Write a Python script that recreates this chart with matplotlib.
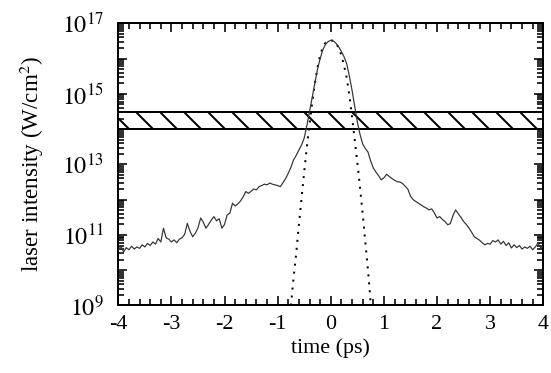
"""Laser intensity contrast vs time, with Gaussian fit and threshold band."""

import matplotlib

matplotlib.use("Agg")
import matplotlib.pyplot as plt
import numpy as np
from matplotlib.ticker import FixedLocator, FuncFormatter, LogLocator, MultipleLocator, NullFormatter


# measured trace, sampled every 0.05 ps from -4 to 4 ps (log10 of W/cm^2)
TIME_PS = np.round(np.linspace(-4.0, 4.0, 161), 2)
LOG_INTENSITY = np.array([
    10.58, 10.68, 10.52, 10.64, 10.58, 10.68, 10.60, 10.66, 10.62, 10.72,
    10.66, 10.76, 10.70, 10.80, 10.74, 10.90, 10.80, 11.19, 10.92, 10.88,
    10.80, 10.86, 10.78, 10.88, 10.92, 11.02, 11.33, 11.10, 10.95, 11.05,
    11.20, 11.48, 11.36, 11.19, 11.30, 11.42, 11.52, 11.40, 11.46, 11.19,
    11.30, 11.57, 11.62, 11.90, 11.82, 11.88, 11.96, 12.08, 12.23, 12.18,
    12.24, 12.30, 12.28, 12.37, 12.40, 12.44, 12.42, 12.47, 12.44, 12.42,
    12.40, 12.37, 12.48, 12.60, 12.75, 12.92, 13.13, 13.26, 13.41, 13.55,
    13.75, 14.10, 14.50, 14.90, 15.30, 15.70, 16.00, 16.25, 16.40, 16.48,
    16.52, 16.50, 16.43, 16.33, 16.20, 16.05, 15.85, 15.50, 15.10, 14.65,
    14.20, 13.85, 13.58, 13.45, 13.35, 13.10, 12.90, 12.78, 12.68, 12.56,
    12.62, 12.72, 12.66, 12.60, 12.55, 12.51, 12.50, 12.46, 12.38, 12.30,
    12.10, 12.00, 11.95, 11.90, 11.85, 11.80, 11.76, 11.71, 11.74, 11.62,
    11.48, 11.52, 11.44, 11.38, 11.29, 11.32, 11.55, 11.71, 11.60, 11.50,
    11.38, 11.30, 11.20, 11.08, 10.95, 10.90, 10.85, 10.78, 10.72, 10.76,
    10.74, 10.84, 10.80, 10.86, 10.74, 10.82, 10.70, 10.78, 10.63, 10.72,
    10.64, 10.70, 10.60, 10.66, 10.62, 10.68, 10.58, 10.66, 10.77, 10.64,
    10.68,
])

# Gaussian pulse (dotted)
GAUSS_TIME_PS = np.array([
    -0.75, -0.70, -0.65, -0.60, -0.55, -0.50, -0.45, -0.40, -0.35, -0.30, -0.25,
    -0.20, -0.15, -0.10, -0.05, 0.00, 0.05, 0.10, 0.15, 0.20, 0.25, 0.30, 0.35,
    0.40, 0.45, 0.50, 0.55, 0.60, 0.65, 0.70, 0.75,
])
GAUSS_LOG_INTENSITY = np.array([
    9.00, 9.80, 10.50, 11.30, 12.05, 12.80, 13.50, 14.15, 14.75, 15.30, 15.75,
    16.10, 16.32, 16.45, 16.50, 16.52, 16.50, 16.43, 16.30, 16.10, 15.80, 15.45,
    14.95, 14.35, 13.70, 13.05, 12.35, 11.60, 10.80, 10.00, 9.10,
])

# threshold band (W/cm^2)
BAND_LOW = 1e14
BAND_HIGH = 3e14

X_TICKS = [-4, -3, -2, -1, 0, 1, 2, 3, 4]
Y_DECADES = [1e9, 1e10, 1e11, 1e12, 1e13, 1e14, 1e15, 1e16, 1e17]
Y_LABELLED = [9, 11, 13, 15, 17]


def decade_label(value, _pos):
    exp = int(round(np.log10(value)))
    return f"$10^{{{exp}}}$" if exp in Y_LABELLED else ""


plt.rcParams.update({
    "font.family": "Liberation Serif",
    "mathtext.fontset": "stix",
    "font.size": 11,
    "hatch.linewidth": 1.0,
})

DPI = 144
fig = plt.figure(figsize=(551 / DPI, 373 / DPI), dpi=DPI, facecolor="white")
ax = fig.add_axes([0.2147, 0.181, 0.7713, 0.7565])

ax.axhspan(BAND_LOW, BAND_HIGH, facecolor="none", edgecolor="black",
           hatch="\\\\", lw=1.0, zorder=2)
ax.plot(GAUSS_TIME_PS, 10.0 ** GAUSS_LOG_INTENSITY, color="black",
        lw=1.0, ls=(0, (1, 3)), zorder=3)
ax.plot(TIME_PS, 10.0 ** LOG_INTENSITY, color="#333333", lw=0.6, zorder=4)

ax.set_yscale("log")
ax.set_xlim(-4, 4)
ax.set_ylim(1e9, 1e17)
ax.set_xticks(X_TICKS)
ax.set_xticklabels([str(t) for t in X_TICKS])
ax.xaxis.set_minor_locator(MultipleLocator(0.2))
ax.yaxis.set_major_locator(FixedLocator(Y_DECADES))
ax.yaxis.set_minor_locator(LogLocator(base=10, subs=np.arange(2, 10), numticks=20))
ax.yaxis.set_major_formatter(FuncFormatter(decade_label))
ax.yaxis.set_minor_formatter(NullFormatter())

ax.tick_params(which="both", direction="in", top=True, right=True, width=0.8)
ax.tick_params(which="major", length=4.5)
ax.tick_params(which="minor", length=3)
ax.tick_params(axis="y", labelsize=12, pad=7)
ax.tick_params(axis="x", labelsize=11, pad=5)
for spine in ax.spines.values():
    spine.set_linewidth(1.0)

ax.set_xlabel("time (ps)", fontsize=11, labelpad=2)
ax.set_ylabel("laser intensity (W/cm$^2$)", fontsize=11.5, labelpad=8)

fig.savefig("out.png", dpi=DPI, facecolor="white")
